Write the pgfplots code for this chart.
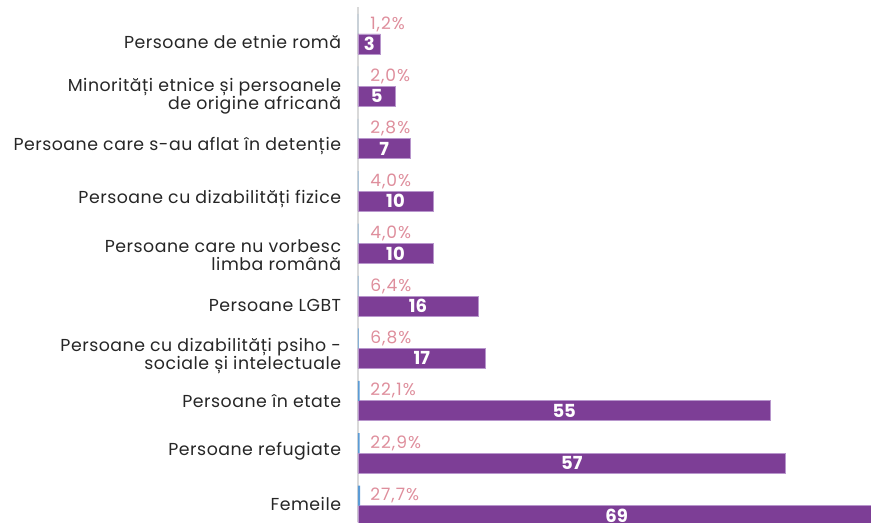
\documentclass[border=0pt]{standalone}
\usepackage{fontspec}
\setmainfont{Poppins}
\newfontfamily\labfont[LetterSpace=3]{Poppins}
\newfontfamily\pctfont[LetterSpace=6]{Poppins}
\usepackage{pgfplots}
\usepackage{pgfplotstable}
\pgfplotsset{compat=1.18}
\definecolor{barpurple}{HTML}{7D3E96}
\definecolor{baredge}{HTML}{B896CC}
\definecolor{pctpink}{HTML}{DE8E9C}
\definecolor{barblue}{HTML}{5B9BD5}
\definecolor{axgray}{HTML}{D9D9D9}
\definecolor{labtext}{HTML}{262626}

\pgfplotstableread{
c cnt pct lab
0 3 1.2 1,2
1 5 2.0 2,0
2 7 2.8 2,8
3 10 4.0 4,0
4 10 4.0 4,0
5 16 6.4 6,4
6 17 6.8 6,8
7 55 22.1 22,1
8 57 22.9 22,9
9 69 27.7 27,7
}\data

\begin{document}
\begin{tikzpicture}
\begin{axis}[
  name=ax,
  scale only axis, width=384.75pt, height=386.25pt,
  y dir=reverse,
  xmin=0, xmax=68.4, ymin=-0.515, ymax=9.313,
  axis x line=none,
  axis y line*=left,
  y axis line style={axgray, line width=1pt},
  ytick={0.153,1.19,2.134,3.153,4.229,5.172,6.153,7,7.962,8.971},
  yticklabels={
    Persoane de etnie romă,
    {Minorități etnice și persoanele\hspace{0.3em}\\de origine africană},
    Persoane care s-au aflat în detenție,
    Persoane cu dizabilități fizice,
    {Persoane care nu vorbesc\hspace{0.3em}\\limba română},
    Persoane LGBT,
    {Persoane cu dizabilități psiho -\\sociale și intelectuale},
    Persoane în etate,
    Persoane refugiate,
    Femeile},
  major tick length=0pt,
  yticklabel style={align=right, labtext, inner sep=0pt, xshift=-12.5pt,
    font=\labfont\fontsize{13}{13.5}\selectfont},
  clip=true,
]
\addplot[xbar, bar width=15pt, bar shift=0pt, fill=barpurple, draw=baredge, line width=0.5pt]
  table[x=cnt, y expr=\thisrow{c}+0.191] {\data};
\addplot[xbar, bar width=15pt, bar shift=0pt, fill=barblue, draw=none]
  table[x expr=\thisrow{pct}/100, y expr=\thisrow{c}-0.191] {\data};
\addplot[draw=none, nodes near coords, point meta=explicit symbolic,
  nodes near coords style={anchor=center, inner sep=0pt, text=white,
    font=\fontsize{13.5}{14}\selectfont\bfseries}]
  table[x expr=\thisrow{cnt}/2, y expr=\thisrow{c}+0.191, meta=cnt] {\data};
\addplot[draw=none, nodes near coords={\pgfplotspointmeta\%}, point meta=explicit symbolic,
  nodes near coords style={anchor=west, inner sep=0pt, xshift=9pt, text=pctpink,
    font=\pctfont\fontsize{12.8}{13.5}\selectfont}]
  table[x expr=0, y expr=\thisrow{c}-0.191, meta=lab] {\data};
\end{axis}
\pgfresetboundingbox
\path[use as bounding box] ([xshift=-268.5pt]ax.south west) rectangle ([yshift=5.25pt]ax.north east);
\end{tikzpicture}
\end{document}
